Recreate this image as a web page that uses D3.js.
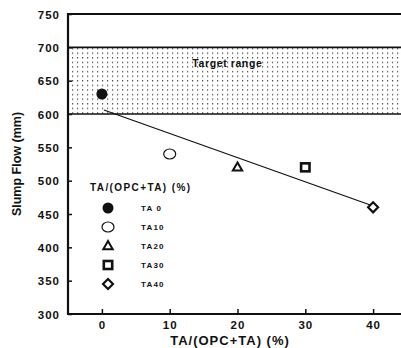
<!DOCTYPE html>
<html>
<head>
<meta charset="utf-8">
<script src="https://cdn.jsdelivr.net/npm/d3@7"></script>
<style>
  body { margin: 0; background: #fff; }
  text { font-family: "Liberation Sans", Arial, sans-serif; font-weight: bold; fill: #111; }
</style>
</head>
<body>
<div id="fig"></div>
<script>
const fig_width = 401
const fig_height = 348

// data
const ta_content = [0, 10, 20, 30, 40]
const slump_flow = [630, 540, 520, 520, 460]
const series_names = ['TA 0', 'TA10', 'TA20', 'TA30', 'TA40']
const series_symbols = ['filledCircle', 'circle', 'triangle', 'square', 'diamond']
const target_range = [600, 700]
const fit_x = [0, 40]
const fit_y = [606, 462]
const x_ticks = [0, 10, 20, 30, 40]
const y_ticks = [300, 350, 400, 450, 500, 550, 600, 650, 700, 750]

const margin = {top: 14, left: 68}
const plot_right = 407   // frame runs off the right edge of the picture
const plot_bottom = 314

let x = d3.scaleLinear().domain([-5, 45]).range([margin.left, plot_right])
let y = d3.scaleLinear().domain([300, 750]).range([plot_bottom, margin.top])

let svg = d3.select('#fig').append('svg')
    .attr('width', fig_width)
    .attr('height', fig_height)

// dotted fill for the target band
let pat = svg.append('defs').append('pattern')
    .attr('id', 'dots')
    .attr('patternUnits', 'userSpaceOnUse')
    .attr('width', 5).attr('height', 4.6)
pat.append('rect').attr('x', 2).attr('y', 2).attr('width', 1.2).attr('height', 1.2).attr('fill', '#333')

svg.append('rect')
    .attr('x', margin.left)
    .attr('y', y(target_range[1]))
    .attr('width', plot_right - margin.left)
    .attr('height', y(target_range[0]) - y(target_range[1]))
    .attr('fill', 'url(#dots)')

target_range.forEach(v => {
    svg.append('line')
        .attr('x1', margin.left).attr('x2', plot_right)
        .attr('y1', y(v)).attr('y2', y(v))
        .attr('stroke', '#111').attr('stroke-width', 1.6)
})

svg.append('text')
    .attr('x', x(18.5)).attr('y', y(670))
    .attr('text-anchor', 'middle')
    .attr('font-size', 10.5)
    .attr('letter-spacing', 0.6)
    .text('Target range')

// axes, ticks point inward
let yAxis = svg.append('g')
    .attr('transform', `translate(${margin.left},0)`)
    .call(d3.axisLeft(y).tickValues(y_ticks).tickSize(-4).tickPadding(8))
let xAxis = svg.append('g')
    .attr('transform', `translate(0,${plot_bottom})`)
    .call(d3.axisBottom(x).tickValues(x_ticks).tickSize(-5).tickPadding(7))

;[yAxis, xAxis].forEach(a => {
    a.select('.domain').remove()
    a.selectAll('line').attr('stroke', '#111').attr('stroke-width', 1.5)
    a.selectAll('text')
        .attr('font-size', 11.5)
        .attr('letter-spacing', 1)
        .style('font-family', '"Liberation Sans", Arial, sans-serif')
        .style('font-weight', 'bold')
        .attr('fill', '#111')
})
yAxis.selectAll('text').attr('dy', '0.36em')

// frame: left, top and bottom
svg.append('path')
    .attr('d', `M${plot_right},${margin.top}H${margin.left}V${plot_bottom}H${plot_right}`)
    .attr('fill', 'none').attr('stroke', '#111').attr('stroke-width', 2.2)

svg.append('text')
    .attr('transform', `translate(21,${(margin.top + plot_bottom) / 2}) rotate(-90)`)
    .attr('text-anchor', 'middle')
    .attr('font-size', 12.5)
    .text('Slump Flow (mm)')

svg.append('text')
    .attr('x', 230).attr('y', 345)
    .attr('text-anchor', 'middle')
    .attr('font-size', 13)
    .attr('letter-spacing', 1)
    .text('TA/(OPC+TA) (%)')

// fitted line
svg.append('line')
    .attr('x1', x(fit_x[0]) + 2).attr('y1', y(fit_y[0]))
    .attr('x2', x(fit_x[1])).attr('y2', y(fit_y[1]))
    .attr('stroke', '#111').attr('stroke-width', 1.3)

function drawSymbol(g, kind, cx, cy) {
    if (kind === 'filledCircle') {
        g.append('circle').attr('cx', cx).attr('cy', cy).attr('r', 5.5).attr('fill', '#111')
    } else if (kind === 'circle') {
        g.append('ellipse').attr('cx', cx).attr('cy', cy).attr('rx', 6).attr('ry', 5)
            .attr('fill', '#fff').attr('stroke', '#111').attr('stroke-width', 1.2)
    } else if (kind === 'triangle') {
        g.append('path').attr('d', d3.symbol(d3.symbolTriangle, 38)())
            .attr('transform', `translate(${cx},${cy + 0.5})`)
            .attr('fill', '#fff').attr('stroke', '#111').attr('stroke-width', 2)
    } else if (kind === 'square') {
        g.append('rect').attr('x', cx - 4.2).attr('y', cy - 4).attr('width', 8.4).attr('height', 8)
            .attr('fill', '#fff').attr('stroke', '#111').attr('stroke-width', 2.6)
    } else if (kind === 'diamond') {
        g.append('path').attr('d', `M${cx},${cy - 5}L${cx + 5},${cy}L${cx},${cy + 5}L${cx - 5},${cy}Z`)
            .attr('fill', '#fff').attr('stroke', '#111').attr('stroke-width', 2.2)
    }
}

let points = svg.append('g')
ta_content.forEach((t, i) => drawSymbol(points, series_symbols[i], x(t), y(slump_flow[i])))

// legend
let legend = svg.append('g')
legend.append('text')
    .attr('x', 90).attr('y', 191)
    .attr('font-size', 10)
    .attr('letter-spacing', 1.4)
    .text('TA/(OPC+TA) (%)')
series_names.forEach((name, i) => {
    let cy = 208 + i * 19
    drawSymbol(legend, series_symbols[i], 108, cy)
    legend.append('text')
        .attr('x', 141).attr('y', cy + 3)
        .attr('font-size', 8)
        .attr('letter-spacing', 1.2)
        .text(name)
})
</script>
</body>
</html>
